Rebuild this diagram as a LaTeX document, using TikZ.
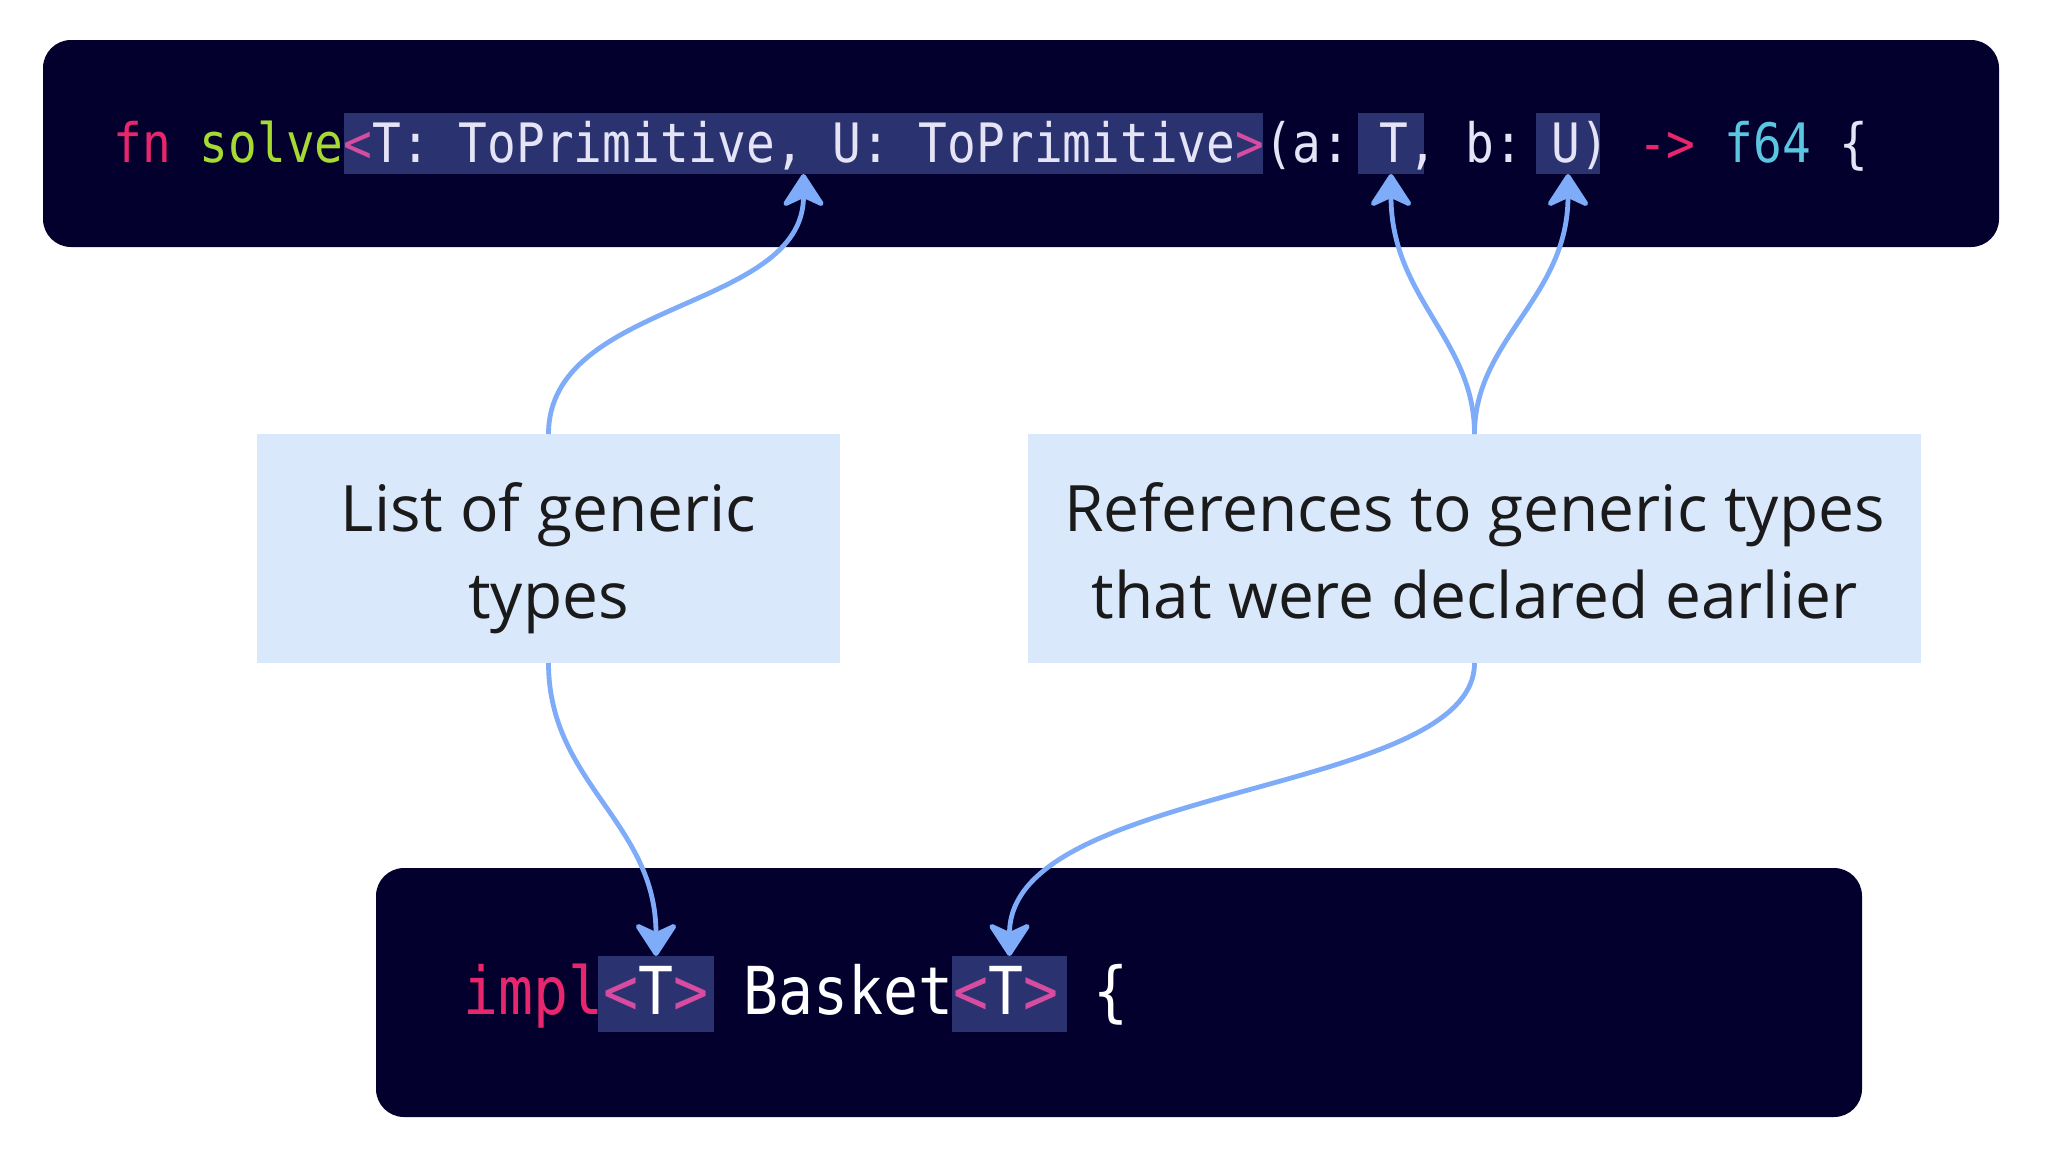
\documentclass[tikz,border=0pt]{standalone}
\usepackage{fontspec}
\setmainfont{Open Sans}
\newfontfamily\codefont[FakeStretch=0.88]{DejaVu Sans Mono}
\usetikzlibrary{arrows.meta}
\definecolor{codebg}{HTML}{03002E}
\definecolor{hlbg}{HTML}{2B3270}
\definecolor{codefg}{HTML}{E4E4F6}
\definecolor{kwpink}{HTML}{E8266E}
\definecolor{fngreen}{HTML}{A6D932}
\definecolor{anglec}{HTML}{D64CA0}
\definecolor{typecyan}{HTML}{5CC6E0}
\definecolor{arrowblue}{HTML}{7EACF8}
\definecolor{lblfill}{HTML}{DAE8FC}
\definecolor{lbltext}{HTML}{1A1A1A}
\frenchspacing
\begin{document}
\begin{tikzpicture}[x=1pt,y=-1pt,
  codebox/.style={fill=codebg, rounded corners=28pt, inner sep=0pt, outer sep=0pt, anchor=north west},
  hlbox/.style={fill=hlbg, inner sep=0pt, outer sep=0pt, anchor=north west},
  lblbox/.style={fill=lblfill, inner sep=0pt, outer sep=0pt, anchor=north west, align=center, text=lbltext, font=\fontsize{64}{87}\selectfont},
  conn/.style={draw=arrowblue, line width=4.8pt, -{Stealth[length=37pt, width=48pt, inset=11pt, round]}},
  codetxt/.style={anchor=base west, inner sep=0pt, outer sep=0pt, text=codefg}]
\useasboundingbox (0,0) rectangle (2046,1160);
\fill[white] (0,0) rectangle (2046,1160);

% code boxes
\node[codebox, minimum width=1956pt, minimum height=207pt] (topbox) at (43,40) {};
\node[codebox, minimum width=1486pt, minimum height=249pt] (botbox) at (376,868) {};

% highlights
\node[hlbox, minimum width=919pt, minimum height=61pt] (hlA) at (344,113) {};
\node[hlbox, minimum width=66pt, minimum height=61pt] (hlT) at (1358,113) {};
\node[hlbox, minimum width=64pt, minimum height=61pt] (hlU) at (1536,113) {};
\node[hlbox, minimum width=116pt, minimum height=76pt] (hlB1) at (598,956) {};
\node[hlbox, minimum width=115pt, minimum height=76pt] (hlB2) at (952,956) {};

% code text
\node[codetxt, font=\codefont\fontsize{54.3}{60}\selectfont] (code1) at (113.5,162)
  {\textcolor{kwpink}{fn} \textcolor{fngreen}{solve}\textcolor{anglec}{<}T: ToPrimitive, U: ToPrimitive\textcolor{anglec}{>}(a: T, b: U) \textcolor{kwpink}{->} \textcolor{typecyan}{f64} \{};
\node[codetxt, text=white, font=\codefont\fontsize{66.1}{72}\selectfont] (code2) at (463,1014)
  {\textcolor{kwpink}{impl}\textcolor{anglec}{<}T\textcolor{anglec}{>} Basket\textcolor{anglec}{<}T\textcolor{anglec}{>} \{};

% label boxes
\node[lblbox, minimum width=583pt, minimum height=229pt] (lblL) at (257,434)
  {\rule{0pt}{70pt}List of generic\\types\rule[-18pt]{0pt}{18pt}};
\node[lblbox, minimum width=893pt, minimum height=229pt] (lblR) at (1028,434)
  {\rule{0pt}{70pt}References to generic types\\that were declared earlier\rule[-18pt]{0pt}{18pt}};

% connectors
\draw[conn] (lblL.north) .. controls +(0,-134) and +(0,137) .. (hlA.south);
\draw[conn] (lblR.north) .. controls +(0,-95) and +(0,124) .. (hlT.south);
\draw[conn] (lblR.north) .. controls +(0,-95) and +(0,124) .. (hlU.south);
\draw[conn] (lblL.south) .. controls +(0,120) and +(0,-134) .. (hlB1.north);
\draw[conn] (lblR.south) .. controls +(0,133) and +(0,-173) .. (hlB2.north);
\end{tikzpicture}
\end{document}
